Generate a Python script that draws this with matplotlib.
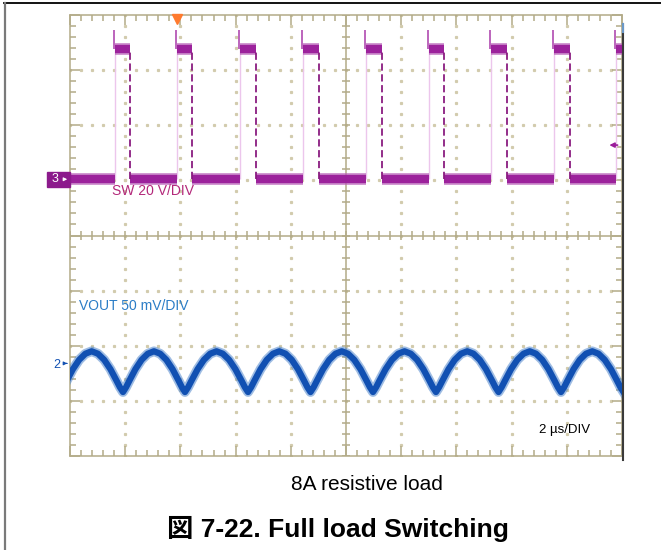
import numpy as np
import matplotlib
matplotlib.use("Agg")
import matplotlib.pyplot as plt
from matplotlib.lines import Line2D
from matplotlib.patches import Rectangle

plt.rcParams['font.family'] = ['Liberation Sans', 'Noto Sans CJK JP', 'DejaVu Sans']

# ---- data (x in divisions, y in divisions) ----
sw_rise = [0.815, 1.938, 3.080, 4.216, 5.357, 6.498, 7.621, 8.763, 9.891]
sw_fall = [1.087, 2.215, 3.370, 4.510, 5.650, 6.780, 7.920, 9.050, 10.0]
sw_low = 1.03
sw_high = 3.385
sw_spike = 3.72

vout_trough_x = [-0.175, 0.960, 2.083, 3.225, 4.357, 5.489, 6.630, 7.763, 8.895, 10.027]
vout_trough = -2.84
vout_peak = -2.10
vout_phase = [0.0, 0.05, 0.1, 0.2, 0.3, 0.4, 0.5, 0.6, 0.7, 0.8, 0.9, 0.95, 1.0]
vout_shape = [0.0, 0.12, 0.27, 0.56, 0.79, 0.94, 1.0, 0.94, 0.79, 0.56, 0.27, 0.12, 0.0]

ch3_offset = 1.02
ch2_offset = -2.35
trig_x = 1.94
trig_level = 1.64

labels = {"sw": "SW 20 V/DIV", "vout": "VOUT 50 mV/DIV", "time": "2 µs/DIV"}
caption = "8A resistive load"
title = "図 7-22. Full load Switching"

purple = '#9a1c9a'
sw_text = '#b3287a'
blue = '#1150b2'
vout_text = '#2a7cc6'
tan = '#b3ab88'
dot = '#d2cbad'

fig = plt.figure(figsize=(6.61, 5.5), dpi=100)
ax = fig.add_axes([70 / 661, 1 - 456 / 550, 552 / 661, 441 / 550])
ax.set_xlim(0, 10)
ax.set_ylim(-4, 4)

# graticule
for s in ax.spines.values():
    s.set_color(tan)
    s.set_linewidth(1.1)
ax.set_xticks(np.arange(0, 11, 1))
ax.set_yticks(np.arange(-4, 5, 1))
ax.set_xticks(np.arange(0, 10.01, 0.2), minor=True)
ax.set_yticks(np.arange(-4, 4.01, 0.2), minor=True)
ax.tick_params(which='both', direction='in', top=True, right=True,
               labelbottom=False, labelleft=False, color=tan, width=1.1)
ax.tick_params(which='major', length=7.5)
ax.tick_params(which='minor', length=4)

minor_x = np.arange(0, 10.01, 0.2)
minor_y = np.arange(-4, 4.01, 0.2)
for gy in [-3, -2, -1, 1, 2, 3]:
    ax.plot(minor_x, np.full_like(minor_x, gy), ls='none', marker='s', ms=1.3, color=dot, zorder=1)
for gx in [1, 2, 3, 4, 6, 7, 8, 9]:
    ax.plot(np.full_like(minor_y, gx), minor_y, ls='none', marker='s', ms=1.3, color=dot, zorder=1)

ax.axhline(0, color=tan, lw=1.1, zorder=1)
ax.axvline(5, color=tan, lw=1.1, zorder=1)
ax.vlines(minor_x, -0.08, 0.08, color=tan, lw=1.1, zorder=1)
ax.hlines(minor_y, 4.92, 5.08, color=tan, lw=1.1, zorder=1)

# SW trace
n = len(sw_rise)
low_start = [0.0] + sw_fall[:-1]
ax.hlines(np.full(n, sw_low), low_start, sw_rise, color='#b860b8', lw=8.5, alpha=0.7, zorder=3)
ax.hlines(np.full(n, sw_low), low_start, sw_rise, color=purple, lw=6, alpha=0.95, zorder=3)
ax.hlines(np.full(n, sw_high), sw_rise, sw_fall, color='#b860b8', lw=8.5, alpha=0.7, zorder=3)
ax.hlines(np.full(n, sw_high), sw_rise, sw_fall, color=purple, lw=6, alpha=0.95, zorder=3)
ax.vlines(sw_rise, sw_low, sw_high, color='#ecc6ec', lw=1.0, zorder=2)
ax.vlines(np.array(sw_rise) - 0.01, sw_high, sw_spike, color='#b04ab0', lw=1.2, zorder=3)
ax.vlines(sw_fall[:-1], sw_low, sw_high, color='#8a1c80', lw=1.3,
          linestyles=(0, (4, 2)), zorder=3)

# VOUT trace
xs, ys = [], []
for t0, t1 in zip(vout_trough_x[:-1], vout_trough_x[1:]):
    xs.extend(t0 + np.array(vout_phase) * (t1 - t0))
    ys.extend(vout_trough + np.array(vout_shape) * (vout_peak - vout_trough))
ax.plot(xs, ys, color='#4f86cc', lw=7, alpha=0.55, solid_joinstyle='round', zorder=3)
ax.plot(xs, ys, color=blue, lw=4.5, solid_joinstyle='round', zorder=4)

# channel labels
ax.text(0.76, 0.81, labels["sw"], color=sw_text, fontsize=10, va='center', ha='left')
ax.text(0.163, -1.28, labels["vout"], color=vout_text, fontsize=10, va='center', ha='left')
ax.text(8.50, -3.53, labels["time"], color='black', fontsize=9.5, va='center', ha='left')

# channel markers
ax.add_patch(Rectangle((-0.417, ch3_offset - 0.135), 0.417, 0.27, color='#8c1a8c', clip_on=False, zorder=5))
ax.text(-0.27, ch3_offset, "3", color='white', fontsize=9, va='center', ha='center', zorder=6)
ax.annotate('', xy=(0.0, ch3_offset), xytext=(-0.16, ch3_offset), annotation_clip=False,
            arrowprops=dict(arrowstyle='-|>', color='white', lw=0.8, mutation_scale=5), zorder=6)
ax.text(-0.23, ch2_offset, "2", color=blue, fontsize=9, va='center', ha='center', clip_on=False)
ax.annotate('', xy=(0.0, ch2_offset + 0.03), xytext=(-0.11, ch2_offset + 0.03), annotation_clip=False,
            arrowprops=dict(arrowstyle='-|>', color=blue, lw=0.8, mutation_scale=5))
ax.plot([trig_x], [3.93], marker='v', ms=7, color='#ff7a2e', clip_on=False, zorder=6)
ax.annotate('', xy=(9.72, trig_level), xytext=(9.97, trig_level),
            arrowprops=dict(arrowstyle='-|>', color=purple, lw=1.2, mutation_scale=7))

# right hand scope edge
ax.plot([10.025, 10.025], [3.84, -4.07], color='#3a3a3a', lw=1.5, clip_on=False, zorder=6)
ax.plot([10.025, 10.025], [3.84, 3.70], color='#6a98c8', lw=1.5, clip_on=False, zorder=7)

# page frame
fig.add_artist(Line2D([4 / 661, 1], [1 - 3 / 550, 1 - 3 / 550], color='black', lw=1.3))
fig.add_artist(Line2D([4.5 / 661, 4.5 / 661], [0, 1 - 3 / 550], color='#7a7a7a', lw=1.6))

fig.text(367 / 661, 1 - 490 / 550, caption, fontsize=15, ha='center', va='baseline')
fig.text(337.5 / 661, 1 - 537 / 550, title, fontsize=19, fontweight='bold', ha='center', va='baseline')

fig.savefig('out.png', dpi=100)
